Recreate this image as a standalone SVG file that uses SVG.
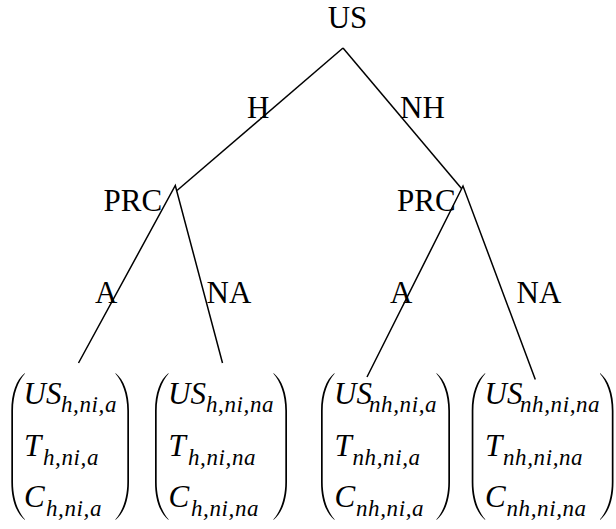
<svg xmlns="http://www.w3.org/2000/svg" xmlns:xlink="http://www.w3.org/1999/xlink" width="616" height="529" viewBox="0 0 616 529">
  <style>
    .lbl { font-family: "Liberation Serif", "Times New Roman", serif; font-size: 31px; fill: #000; }
    .m { font-family: "Liberation Serif", "Times New Roman", serif; font-style: italic; font-size: 31px; fill: #000; }
    .s { font-family: "Liberation Serif", "Times New Roman", serif; font-style: italic; font-size: 23px; letter-spacing: 0.6px; fill: #000; }
    .edge { stroke: #000; stroke-width: 1.5; fill: none; stroke-linecap: butt; }
    .paren { fill: #000; }
  </style>
  <defs>
    <!-- tall left parenthesis, 13.5 wide, 147 high -->
    <path id="lp" class="paren" d="M13.5,0 C5,7 0,20 0,38 L0,109 C0,127 5,140 13.5,147 L13.5,146.2 C7,139 1.7,126 1.7,109 L1.7,38 C1.7,21 7,8 13.5,0.8 Z"/>
  </defs>
  <rect width="616" height="529" fill="#fff"/>

  <!-- branches -->
  <g id="connectors">
    <line class="edge" x1="343" y1="48" x2="177" y2="190.5"/>
    <line class="edge" x1="343" y1="48" x2="461.5" y2="188.5"/>
    <polyline class="edge" points="78.5,363 175.3,185.5 222.5,363"/>
    <polyline class="edge" points="367,377 463,186 535.3,379.5"/>
    <text class="lbl" x="247" y="117.5">H</text>
    <text class="lbl" x="400" y="117.5">NH</text>
    <text class="lbl" x="95" y="303">A</text>
    <text class="lbl" x="206.5" y="303">NA</text>
    <text class="lbl" x="390" y="303">A</text>
    <text class="lbl" x="516.5" y="303">NA</text>
  </g>

  <g id="root">
    <text class="lbl" x="347.5" y="27.5" text-anchor="middle">US</text>
  </g>
  <g id="prc-h">
    <text class="lbl" x="103.5" y="211">PRC</text>
  </g>
  <g id="prc-nh">
    <text class="lbl" x="397" y="211">PRC</text>
  </g>

  <!-- outcome vectors -->
  <g id="leaf-h-a">
    <use xlink:href="#lp" transform="translate(11.3,373)"/>
    <use xlink:href="#lp" transform="translate(129,373) scale(-1,1)"/>
    <text class="m" x="23.5" y="404">US</text><text class="s" x="61" y="412">h,ni,a</text>
    <text class="m" x="24" y="456">T</text><text class="s" x="43" y="465">h,ni,a</text>
    <text class="m" x="24" y="507">C</text><text class="s" x="46" y="516">h,ni,a</text>
  </g>
  <g id="leaf-h-na">
    <use xlink:href="#lp" transform="translate(155,373)"/>
    <use xlink:href="#lp" transform="translate(287,373) scale(-1,1)"/>
    <text class="m" x="168" y="404">US</text><text class="s" x="206" y="412">h,ni,na</text>
    <text class="m" x="168.5" y="456">T</text><text class="s" x="188" y="465">h,ni,na</text>
    <text class="m" x="168.5" y="507">C</text><text class="s" x="191" y="516">h,ni,na</text>
  </g>
  <g id="leaf-nh-a">
    <use xlink:href="#lp" transform="translate(321,373)"/>
    <use xlink:href="#lp" transform="translate(450,373) scale(-1,1)"/>
    <text class="m" x="334" y="404">US</text><text class="s" x="369" y="412">nh,ni,a</text>
    <text class="m" x="334.5" y="456">T</text><text class="s" x="352.5" y="465">nh,ni,a</text>
    <text class="m" x="334.5" y="507">C</text><text class="s" x="356" y="516">nh,ni,a</text>
  </g>
  <g id="leaf-nh-na">
    <use xlink:href="#lp" transform="translate(471.7,373)"/>
    <use xlink:href="#lp" transform="translate(613.5,373) scale(-1,1)"/>
    <text class="m" x="484.5" y="404">US</text><text class="s" x="520" y="412">nh,ni,na</text>
    <text class="m" x="485" y="456">T</text><text class="s" x="503" y="465">nh,ni,na</text>
    <text class="m" x="485" y="507">C</text><text class="s" x="506.5" y="516">nh,ni,na</text>
  </g>
</svg>
